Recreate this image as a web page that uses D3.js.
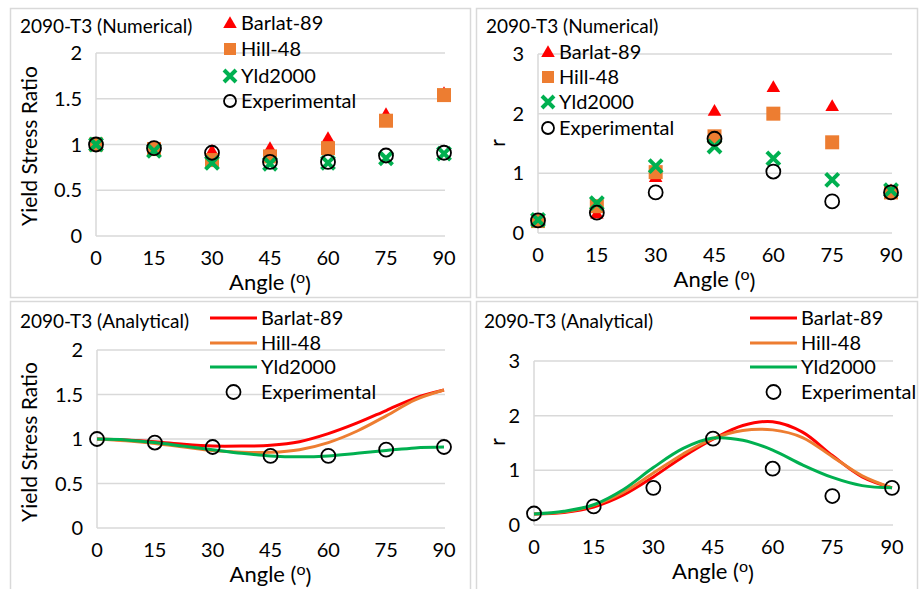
<!DOCTYPE html>
<html>
<head>
<meta charset="utf-8">
<script src="https://cdn.jsdelivr.net/npm/d3@7"></script>
<style>
  body { margin: 0; background: #fff; }
  text { font-family: Lato, "Open Sans", sans-serif; fill: #000; }
</style>
</head>
<body>
<div id="chart"></div>
<script>
// ---- data ----
var angles = [0, 15, 30, 45, 60, 75, 90];
var xTicks = [0, 15, 30, 45, 60, 75, 90];
var ratioTicks = [0, 0.5, 1, 1.5, 2];
var rTicks = [0, 1, 2, 3];

// experimental
var expRatio = [1.0, 0.96, 0.91, 0.81, 0.81, 0.88, 0.91];
var expR = [0.21, 0.34, 0.68, 1.58, 1.03, 0.53, 0.68];

// numerical
var barlatRatio = [1.0, 0.96, 0.92, 0.95, 1.06, 1.32, 1.55];
var hillRatio = [1.0, 0.95, 0.83, 0.87, 0.96, 1.26, 1.54];
var yldRatio = [1.0, 0.93, 0.80, 0.79, 0.80, 0.85, 0.90];

var barlatR = [0.2, 0.31, 0.92, 2.03, 2.43, 2.11, 0.7];
var hillR = [0.2, 0.45, 1.02, 1.62, 2.0, 1.52, 0.68];
var yldR = [0.22, 0.5, 1.12, 1.45, 1.25, 0.89, 0.72];

// analytical curves
var curveAngles = [0, 7.5, 15, 22.5, 30, 37.5, 45, 52.5, 60, 67.5, 75, 82.5, 90];
var barlatRatioCurve = [1.0, 0.99, 0.97, 0.94, 0.92, 0.92, 0.93, 0.97, 1.06, 1.18, 1.32, 1.46, 1.55];
var hillRatioCurve = [1.0, 0.98, 0.95, 0.91, 0.87, 0.85, 0.85, 0.88, 0.96, 1.09, 1.26, 1.44, 1.55];
var yldRatioCurve = [1.0, 0.99, 0.96, 0.92, 0.88, 0.84, 0.81, 0.80, 0.81, 0.84, 0.87, 0.90, 0.91];

var barlatRCurve = [0.2, 0.23, 0.33, 0.55, 0.88, 1.25, 1.57, 1.82, 1.89, 1.7, 1.27, 0.88, 0.68];
var hillRCurve = [0.2, 0.24, 0.36, 0.6, 0.95, 1.3, 1.58, 1.73, 1.74, 1.6, 1.25, 0.9, 0.68];
var yldRCurve = [0.2, 0.25, 0.37, 0.65, 1.05, 1.4, 1.59, 1.55, 1.37, 1.1, 0.87, 0.72, 0.68];

var RED = "#ff0000", ORANGE = "#ed7d31", GREEN = "#00b050", GRID = "#d9d9d9";

var svg = d3.select("#chart").append("svg")
   .attr("width", 921)
   .attr("height", 589);

// panel frames
var frames = [[10, 8, 460, 289], [476, 8, 441, 289], [10, 301, 460, 300], [476, 301, 441, 300]];
frames.forEach(function(f) {
   svg.append("rect").attr("x", f[0] + 0.5).attr("y", f[1] + 0.5)
      .attr("width", f[2]).attr("height", f[3])
      .attr("fill", "#fff").attr("stroke", GRID).attr("stroke-width", 1.5);
});

function makePanel(opt) {
   var x = d3.scaleLinear().domain([0, 90]).range([opt.x0, opt.x1]);
   var y = d3.scaleLinear().domain([0, opt.ymax]).range([opt.y0, opt.y1]);
   var g = svg.append("g");

   // gridlines
   g.selectAll(".grid").data(opt.yTicks).enter().append("line")
      .attr("x1", opt.x0).attr("x2", opt.x1 + 1)
      .attr("y1", function(d) { return y(d); })
      .attr("y2", function(d) { return y(d); })
      .attr("stroke", GRID).attr("stroke-width", 1.5);
   g.append("line").attr("x1", opt.x0).attr("x2", opt.x0)
      .attr("y1", opt.y0).attr("y2", opt.y1)
      .attr("stroke", GRID).attr("stroke-width", 1.5);

   // tick labels
   g.selectAll(".yt").data(opt.yTicks).enter().append("text")
      .attr("x", opt.x0 - 14)
      .attr("y", function(d) { return y(d); })
      .attr("dy", "0.35em")
      .attr("text-anchor", "end")
      .style("font-size", "20px")
      .text(function(d) { return d; });
   g.selectAll(".xt").data(xTicks).enter().append("text")
      .attr("x", function(d) { return x(d); })
      .attr("y", opt.y0 + 22)
      .attr("dy", "0.35em")
      .attr("text-anchor", "middle")
      .style("font-size", "20px")
      .text(function(d) { return d; });

   // axis titles
   var at = g.append("text")
      .attr("x", (opt.x0 + opt.x1) / 2)
      .attr("y", opt.y0 + 46)
      .attr("dy", "0.35em")
      .attr("text-anchor", "middle")
      .style("font-size", "22px");
   at.append("tspan").text("Angle (");
   at.append("tspan").attr("dy", "-0.4em").style("font-size", "16px").text("o");
   at.append("tspan").attr("dy", "0.4em").text(")");

   g.append("text")
      .attr("transform", "translate(" + opt.ytx + "," + opt.yty + ") rotate(-90)")
      .attr("dy", "0.35em")
      .attr("text-anchor", "middle")
      .style("font-size", "21px")
      .text(opt.ytitle);

   g.append("text")
      .attr("x", opt.tx).attr("y", opt.ty)
      .style("font-size", "19px")
      .text(opt.title);

   return { x: x, y: y, g: g };
}

function drawTriangles(p, vals) {
   p.g.selectAll(".tri").data(vals).enter().append("path")
      .attr("d", d3.symbol().type(d3.symbolTriangle).size(80))
      .attr("transform", function(d, i) { return "translate(" + p.x(angles[i]) + "," + p.y(d) + ")"; })
      .attr("fill", RED);
}
function drawSquares(p, vals) {
   p.g.selectAll(".sq").data(vals).enter().append("rect")
      .attr("x", function(d, i) { return p.x(angles[i]) - 7; })
      .attr("y", function(d) { return p.y(d) - 7; })
      .attr("width", 14).attr("height", 14)
      .attr("fill", ORANGE);
}
function crossPath(cx, cy, s) {
   return "M" + (cx - s) + "," + (cy - s) + "L" + (cx + s) + "," + (cy + s) +
      "M" + (cx - s) + "," + (cy + s) + "L" + (cx + s) + "," + (cy - s);
}
function drawCrosses(p, vals) {
   p.g.selectAll(".cr").data(vals).enter().append("path")
      .attr("d", function(d, i) { return crossPath(p.x(angles[i]), p.y(d), 6.5); })
      .attr("stroke", GREEN).attr("stroke-width", 4).attr("fill", "none");
}
function drawCircles(p, vals) {
   p.g.selectAll(".ci").data(vals).enter().append("circle")
      .attr("cx", function(d, i) { return p.x(angles[i]); })
      .attr("cy", function(d) { return p.y(d); })
      .attr("r", 7)
      .attr("fill", "none").attr("stroke", "#000").attr("stroke-width", 1.8);
}
function drawCurve(p, vals, color) {
   var line = d3.line()
      .x(function(d, i) { return p.x(curveAngles[i]); })
      .y(function(d) { return p.y(d); })
      .curve(d3.curveCatmullRom);
   p.g.append("path").datum(vals)
      .attr("d", line)
      .attr("fill", "none").attr("stroke", color).attr("stroke-width", 3);
}

function markerLegend(lx, tx, rows) {
   var names = ["Barlat-89", "Hill-48", "Yld2000", "Experimental"];
   var lg = svg.append("g");
   lg.append("path").attr("d", d3.symbol().type(d3.symbolTriangle).size(80))
      .attr("transform", "translate(" + lx + "," + (rows[0] + 1) + ")").attr("fill", RED);
   lg.append("rect").attr("x", lx - 6).attr("y", rows[1] - 6).attr("width", 12).attr("height", 12).attr("fill", ORANGE);
   lg.append("path").attr("d", crossPath(lx, rows[2], 6))
      .attr("stroke", GREEN).attr("stroke-width", 4).attr("fill", "none");
   lg.append("circle").attr("cx", lx).attr("cy", rows[3]).attr("r", 6)
      .attr("fill", "none").attr("stroke", "#000").attr("stroke-width", 1.8);
   lg.selectAll("text").data(names).enter().append("text")
      .attr("x", tx).attr("y", function(d, i) { return rows[i]; })
      .attr("dy", "0.35em")
      .style("font-size", "20px")
      .text(function(d) { return d; });
}

function lineLegend(lx0, lx1, tx, rows) {
   var names = ["Barlat-89", "Hill-48", "Yld2000", "Experimental"];
   var colors = [RED, ORANGE, GREEN];
   var lg = svg.append("g");
   colors.forEach(function(c, i) {
      lg.append("line").attr("x1", lx0).attr("x2", lx1)
         .attr("y1", rows[i]).attr("y2", rows[i])
         .attr("stroke", c).attr("stroke-width", 3);
   });
   lg.append("circle").attr("cx", (lx0 + lx1) / 2).attr("cy", rows[3]).attr("r", 7)
      .attr("fill", "none").attr("stroke", "#000").attr("stroke-width", 1.8);
   lg.selectAll("text").data(names).enter().append("text")
      .attr("x", tx).attr("y", function(d, i) { return rows[i]; })
      .attr("dy", "0.35em")
      .style("font-size", "20px")
      .text(function(d) { return d; });
}

// top left: numerical yield stress ratio
var p1 = makePanel({ x0: 96, x1: 444, y0: 236, y1: 53, ymax: 2, yTicks: ratioTicks,
   ytitle: "Yield Stress Ratio", ytx: 30, yty: 146, title: "2090-T3 (Numerical)", tx: 20, ty: 33 });
drawTriangles(p1, barlatRatio);
drawSquares(p1, hillRatio);
drawCrosses(p1, yldRatio);
drawCircles(p1, expRatio);
markerLegend(230, 241, [23, 49, 76, 101]);

// top right: numerical r
var p2 = makePanel({ x0: 538, x1: 891, y0: 233, y1: 54, ymax: 3, yTicks: rTicks,
   ytitle: "r", ytx: 498, yty: 143, title: "2090-T3 (Numerical)", tx: 486, ty: 33 });
drawTriangles(p2, barlatR);
drawSquares(p2, hillR);
drawCrosses(p2, yldR);
drawCircles(p2, expR);
markerLegend(548, 559, [52, 77, 102, 128]);

// bottom left: analytical yield stress ratio
var p3 = makePanel({ x0: 97, x1: 444, y0: 528, y1: 350, ymax: 2, yTicks: ratioTicks,
   ytitle: "Yield Stress Ratio", ytx: 30, yty: 442, title: "2090-T3 (Analytical)", tx: 20, ty: 328 });
drawCurve(p3, barlatRatioCurve, RED);
drawCurve(p3, hillRatioCurve, ORANGE);
drawCurve(p3, yldRatioCurve, GREEN);
drawCircles(p3, expRatio);
lineLegend(210, 257, 261, [318, 343, 367, 392]);

// bottom right: analytical r
var p4 = makePanel({ x0: 534, x1: 892, y0: 525, y1: 361, ymax: 3, yTicks: rTicks,
   ytitle: "r", ytx: 498, yty: 442, title: "2090-T3 (Analytical)", tx: 484, ty: 328 });
drawCurve(p4, barlatRCurve, RED);
drawCurve(p4, hillRCurve, ORANGE);
drawCurve(p4, yldRCurve, GREEN);
drawCircles(p4, expR);
lineLegend(750, 797, 801, [318, 343, 367, 392]);
</script>
</body>
</html>
